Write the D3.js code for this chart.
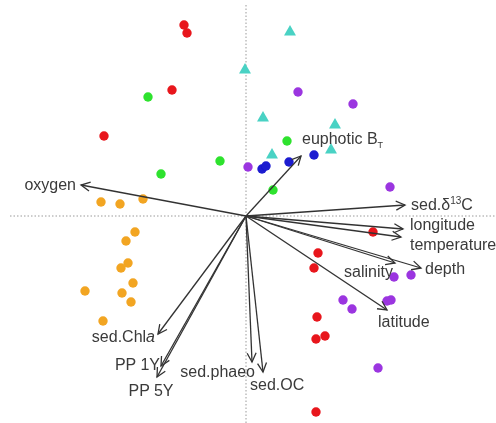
<!DOCTYPE html>
<html>
<head>
<meta charset="utf-8">
<script src="https://cdn.jsdelivr.net/npm/d3@7"></script>
<style>
  html, body { margin: 0; padding: 0; background: #fff; }
  svg { display: block; }
  text { font-family: "Liberation Sans", Arial, sans-serif; font-size: 16px; fill: #3a3a3a; }
</style>
</head>
<body>
<div id="chart"></div>
<script>
// site scores (RDA axis 1, axis 2), one array per group
const redSites = [[-0.62,1.91],[-0.59,1.83],[-0.74,1.26],[-1.42,0.80],[1.27,-0.16],[0.72,-0.37],
                  [0.68,-0.52],[0.71,-1.01],[0.79,-1.20],[0.70,-1.23],[0.70,-1.96]];
const greenSites = [[-0.98,1.19],[-0.26,0.55],[-0.85,0.42],[0.41,0.75],[0.27,0.26]];
const blueSites = [[0.16,0.47],[0.20,0.50],[0.43,0.54],[0.68,0.61]];
const purpleSites = [[0.02,0.49],[0.52,1.24],[1.07,1.12],[1.44,0.29],[1.48,-0.61],[1.65,-0.59],
                     [0.97,-0.84],[1.06,-0.93],[1.41,-0.85],[1.45,-0.84],[1.32,-1.52]];
const orangeSites = [[-1.45,0.14],[-1.26,0.12],[-1.03,0.17],[-1.11,-0.16],[-1.20,-0.25],[-1.18,-0.47],
                     [-1.25,-0.52],[-1.13,-0.67],[-1.61,-0.75],[-1.24,-0.77],[-1.15,-0.86],[-1.43,-1.05]];
const cyanSites = [[-0.01,1.46],[0.44,1.84],[0.17,0.98],[0.89,0.91],[0.85,0.66],[0.26,0.61]];

// environmental vectors
const variables = ['oxygen','euphotic','sed.d13C','longitude','temperature','salinity','depth',
                   'latitude','sed.Chla','PP 1Y','PP 5Y','sed.phaeo','sed.OC'];
const varX = [-1.65, 0.55, 1.59, 1.57, 1.55, 1.49, 1.75, 1.41, -0.88, -0.85, -0.89, 0.06, 0.17];
const varY = [ 0.31, 0.60, 0.11,-0.13,-0.21,-0.47,-0.52,-0.94, -1.18, -1.50, -1.61,-1.46,-1.56];

const width = 496, height = 423;

// label placement relative to arrow tip
const labelPos = {
  'oxygen':      { dx: -5,  dy: 5,  anchor: 'end' },
  'euphotic':    { dx: 1,   dy: -12, anchor: 'start' },
  'sed.d13C':    { dx: 6,   dy: 5,  anchor: 'start' },
  'longitude':   { dx: 7,   dy: 1,  anchor: 'start' },
  'temperature': { dx: 9,   dy: 13, anchor: 'start' },
  'salinity':    { dx: -2,  dy: 14, anchor: 'end' },
  'depth':       { dx: 4,   dy: 6,  anchor: 'start' },
  'latitude':    { dx: -9,  dy: 17, anchor: 'start' },
  'sed.Chla':    { dx: -3,  dy: 8,  anchor: 'end' },
  'PP 1Y':       { dx: -1,  dy: 4,  anchor: 'end' },
  'PP 5Y':       { dx: -6,  dy: 19, anchor: 'middle' },
  'sed.phaeo':   { dx: 3,   dy: 15, anchor: 'end' },
  'sed.OC':      { dx: -13, dy: 18, anchor: 'start' }
};

const x = d3.scaleLinear().domain([-2.46, 2.50]).range([0, width]);
const y = d3.scaleLinear().domain([2.16, -2.07]).range([0, height]);

const svg = d3.select('#chart')
    .append('svg')
    .attr('width', width)
    .attr('height', height);

const defs = svg.append('defs');
defs.append('filter')
    .attr('id', 'soft')
    .append('feGaussianBlur')
    .attr('stdDeviation', 0.45);

defs.append('marker')
    .attr('id', 'head')
    .attr('markerUnits', 'userSpaceOnUse')
    .attr('markerWidth', 12)
    .attr('markerHeight', 12)
    .attr('viewBox', '0 0 12 12')
    .attr('refX', 10)
    .attr('refY', 6)
    .attr('orient', 'auto')
    .append('path')
    .attr('d', 'M1,1.5 L10,6 L1,10.5')
    .attr('fill', 'none')
    .attr('stroke', '#333')
    .attr('stroke-width', 1.3);

const g = svg.append('g').attr('filter', 'url(#soft)');

// dotted zero lines
g.append('line')
    .attr('x1', 10).attr('x2', width)
    .attr('y1', y(0)).attr('y2', y(0))
    .attr('stroke', '#9a9a9a')
    .attr('stroke-dasharray', '1.5,2');
g.append('line')
    .attr('x1', x(0)).attr('x2', x(0))
    .attr('y1', 5).attr('y2', height)
    .attr('stroke', '#9a9a9a')
    .attr('stroke-dasharray', '1.5,2');

// sites
const groups = [
  { pts: redSites, color: '#e8161c' },
  { pts: greenSites, color: '#2ee22e' },
  { pts: purpleSites, color: '#9b36e0' },
  { pts: orangeSites, color: '#f2a523' },
  { pts: blueSites, color: '#1a1ad0' }
];
groups.forEach(grp => {
  g.selectAll(null)
      .data(grp.pts)
      .enter()
      .append('circle')
      .attr('cx', d => x(d[0]))
      .attr('cy', d => y(d[1]))
      .attr('r', 4.7)
      .attr('fill', grp.color);
});

g.selectAll('.tri')
    .data(cyanSites)
    .enter()
    .append('path')
    .attr('class', 'tri')
    .attr('d', d3.symbol().type(d3.symbolTriangle).size(62))
    .attr('transform', d => `translate(${x(d[0])},${y(d[1])})`)
    .attr('fill', '#48d2c4');

// arrows
const vecs = variables.map((v, i) => ({ name: v, vx: varX[i], vy: varY[i] }));

g.selectAll('.vec')
    .data(vecs)
    .enter()
    .append('line')
    .attr('class', 'vec')
    .attr('x1', x(0))
    .attr('y1', y(0))
    .attr('x2', d => x(d.vx))
    .attr('y2', d => y(d.vy))
    .attr('stroke', '#333')
    .attr('stroke-width', 1.3)
    .attr('marker-end', 'url(#head)');

const labels = g.selectAll('.lab')
    .data(vecs)
    .enter()
    .append('text')
    .attr('class', 'lab')
    .attr('x', d => x(d.vx) + labelPos[d.name].dx)
    .attr('y', d => y(d.vy) + labelPos[d.name].dy)
    .attr('text-anchor', d => labelPos[d.name].anchor);

labels.each(function (d) {
  const t = d3.select(this);
  if (d.name === 'euphotic') {
    t.append('tspan').text('euphotic B');
    t.append('tspan').attr('dy', 4).style('font-size', '9px').text('T');
  } else if (d.name === 'sed.d13C') {
    t.append('tspan').text('sed.δ');
    t.append('tspan').attr('dy', -6).style('font-size', '10px').text('13');
    t.append('tspan').attr('dy', 6).text('C');
  } else if (d.name === 'sed.Chla') {
    t.append('tspan').text('sed.Chl');
    t.append('tspan').style('font-style', 'italic').text('a');
  } else {
    t.text(d.name);
  }
});
</script>
</body>
</html>
